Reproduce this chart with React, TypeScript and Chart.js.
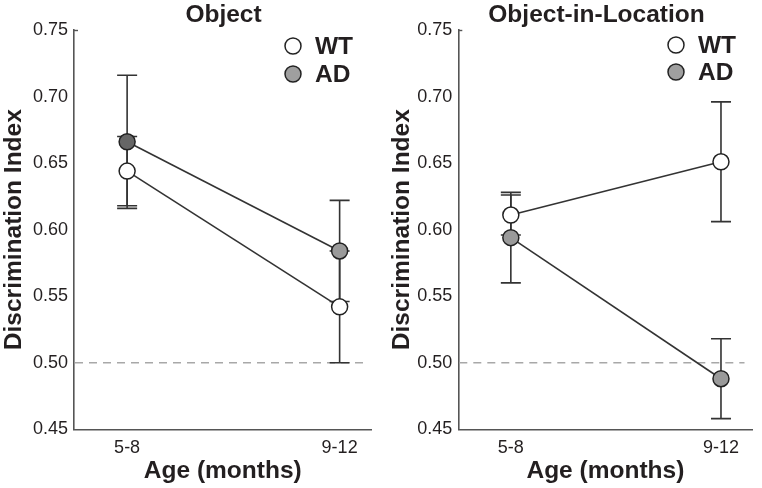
import { useEffect, useRef } from 'react';
import { Chart, registerables } from 'chart.js';
Chart.register(...registerables);

const categories = ['5-8', '9-12'];
const yTicks = [0.45, 0.5, 0.55, 0.6, 0.65, 0.7, 0.75];
const seriesNames = ['WT', 'AD'];
const panelTitles = ['Object', 'Object-in-Location'];
const chanceLevel = 0.5;

const objectWT = [0.644, 0.542];
const objectWTErr = [0.026, 0.042];
const objectAD = [0.666, 0.584];
const objectADErr = [0.05, 0.038];

const locationWT = [0.611, 0.651];
const locationWTErr = [0.015, 0.045];
const locationAD = [0.594, 0.488];
const locationADErr = [0.034, 0.03];

const FONT = "Arial, 'Liberation Sans', Helvetica, sans-serif";
const TEXT = '#231f20';
const LINE = '#333333';

type Panel = {
  title: string;
  wt: number[];
  wtErr: number[];
  ad: number[];
  adErr: number[];
  adColors: string[];
  plotLeft: number;
  padRight: number;
  yTitlePad: number;
  titleX: number;
  legendX: number;
  legendY: number[];
};

const panels: Panel[] = [
  {
    title: panelTitles[0],
    wt: objectWT,
    wtErr: objectWTErr,
    ad: objectAD,
    adErr: objectADErr,
    adColors: ['#666666', '#9a9a9a'],
    plotLeft: 74,
    padRight: 9,
    yTitlePad: 2,
    titleX: 223.5,
    legendX: 293,
    legendY: [46, 74],
  },
  {
    title: panelTitles[1],
    wt: locationWT,
    wtErr: locationWTErr,
    ad: locationAD,
    adErr: locationADErr,
    adColors: ['#9a9a9a', '#9a9a9a'],
    plotLeft: 77.3,
    padRight: 5,
    yTitlePad: 8.5,
    titleX: 215.5,
    legendX: 295,
    legendY: [45, 72],
  },
];

function makePlugin(p: Panel) {
  return {
    id: 'extras',
    beforeDatasetsDraw(chart: any) {
      const { ctx, chartArea, scales } = chart;
      const xs = scales.x;
      const ys = scales.y;
      ctx.save();
      ctx.strokeStyle = '#a8a8a8';
      ctx.lineWidth = 1.3;
      ctx.setLineDash([8, 6]);
      const yy = ys.getPixelForValue(chanceLevel);
      ctx.beginPath();
      ctx.moveTo(chartArea.left + 1, yy);
      ctx.lineTo(chartArea.right - 8, yy);
      ctx.stroke();
      ctx.setLineDash([]);
      // small top tick as in the original axis
      ctx.strokeStyle = '#555';
      ctx.lineWidth = 1.4;
      ctx.beginPath();
      ctx.moveTo(chartArea.left, chartArea.top + 0.5);
      ctx.lineTo(chartArea.left + 4, chartArea.top + 0.5);
      ctx.stroke();
      const errs = [p.wtErr, p.adErr];
      chart.data.datasets.forEach((ds: any, di: number) => {
        ds.data.forEach((pt: any, i: number) => {
          const px = xs.getPixelForValue(pt.x);
          const t = ys.getPixelForValue(pt.y + errs[di][i]);
          const b = ys.getPixelForValue(pt.y - errs[di][i]);
          ctx.strokeStyle = LINE;
          ctx.lineWidth = 1.6;
          ctx.beginPath();
          ctx.moveTo(px, t);
          ctx.lineTo(px, b);
          ctx.moveTo(px - 10, t);
          ctx.lineTo(px + 10, t);
          ctx.moveTo(px - 10, b);
          ctx.lineTo(px + 10, b);
          ctx.stroke();
        });
      });
      ctx.restore();
    },
    afterDraw(chart: any) {
      const { ctx } = chart;
      ctx.save();
      ctx.fillStyle = TEXT;
      ctx.font = `bold 24.5px ${FONT}`;
      ctx.textAlign = 'center';
      ctx.textBaseline = 'middle';
      ctx.fillText(p.title, p.titleX, 15);
      const fills = ['#ffffff', '#9f9f9f'];
      seriesNames.forEach((name, i) => {
        const cy = p.legendY[i];
        ctx.beginPath();
        ctx.arc(p.legendX, cy, 8, 0, Math.PI * 2);
        ctx.fillStyle = fills[i];
        ctx.fill();
        ctx.lineWidth = 1.5;
        ctx.strokeStyle = '#222';
        ctx.stroke();
        ctx.fillStyle = TEXT;
        ctx.textAlign = 'left';
        ctx.fillText(name, p.legendX + 22, cy + 1);
      });
      ctx.restore();
    },
  };
}

function PanelChart({ p }: { p: Panel }) {
  const ref = useRef<HTMLCanvasElement>(null);
  useEffect(() => {
    if (!ref.current) return;
    const toPts = (arr: number[]) => arr.map((v, i) => ({ x: i + 1, y: v }));
    const chart = new Chart(ref.current, {
      type: 'line',
      data: {
        datasets: [
          {
            label: seriesNames[0],
            data: toPts(p.wt),
            borderColor: LINE,
            borderWidth: 1.6,
            pointRadius: 8,
            pointBorderWidth: 1.5,
            pointBorderColor: '#222',
            pointBackgroundColor: '#ffffff',
          },
          {
            label: seriesNames[1],
            data: toPts(p.ad),
            borderColor: LINE,
            borderWidth: 1.6,
            pointRadius: 8,
            pointBorderWidth: 1.5,
            pointBorderColor: '#222',
            pointBackgroundColor: p.adColors,
          },
        ],
      },
      options: {
        animation: false,
        responsive: false,
        layout: { padding: { top: 30, left: 0, right: p.padRight, bottom: 0 } },
        plugins: { legend: { display: false }, tooltip: { enabled: false }, title: { display: false } },
        scales: {
          x: {
            type: 'linear',
            min: 0.75,
            max: 2.15,
            afterBuildTicks: (s: any) => {
              s.ticks = categories.map((_, i) => ({ value: i + 1 }));
            },
            afterFit: (s: any) => {
              s.height = 58.7;
            },
            ticks: {
              callback: (v: any) => categories[Math.round(v) - 1],
              font: { family: FONT, size: 18 },
              color: TEXT,
              padding: 8,
              maxRotation: 0,
            },
            grid: { display: false, drawTicks: false },
            border: { display: true, color: '#555', width: 1.6 },
            title: {
              display: true,
              text: 'Age (months)',
              font: { family: FONT, size: 24.5, weight: 'bold', lineHeight: 1 },
              color: TEXT,
              padding: { top: 0, bottom: 5 },
            },
          },
          y: {
            min: 0.45,
            max: 0.75,
            afterBuildTicks: (s: any) => {
              s.ticks = yTicks.map((v) => ({ value: v }));
            },
            afterFit: (s: any) => {
              s.width = p.plotLeft;
            },
            ticks: {
              callback: (v: any) => Number(v).toFixed(2),
              font: { family: FONT, size: 18 },
              color: TEXT,
              padding: 6,
            },
            grid: { display: false, drawTicks: false },
            border: { display: true, color: '#555', width: 1.6 },
            title: {
              display: true,
              text: 'Discrimination Index',
              font: { family: FONT, size: 24.5, weight: 'bold', lineHeight: 1 },
              color: TEXT,
              padding: { top: p.yTitlePad, bottom: 0 },
            },
          },
        },
      },
      plugins: [makePlugin(p)],
    } as any);
    return () => chart.destroy();
  }, [p]);
  return <canvas ref={ref} width={381} height={488} style={{ width: 381, height: 488, display: 'block' }} />;
}

export default function App() {
  return (
    <div style={{ position: 'fixed', left: 0, top: 0, width: 762, height: 488, display: 'flex', background: '#fff' }}>
      {panels.map((p, i) => (
        <PanelChart key={i} p={p} />
      ))}
    </div>
  );
}
